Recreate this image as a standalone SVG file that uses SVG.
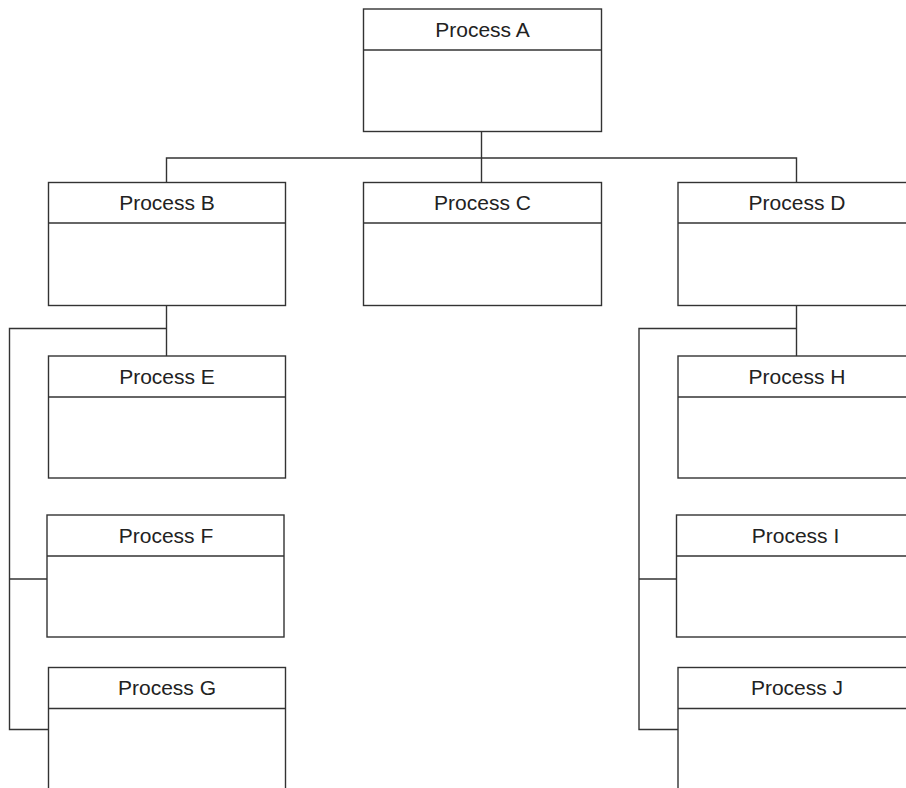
<svg xmlns="http://www.w3.org/2000/svg" width="906" height="788" viewBox="0 0 906 788">
  <style>
    .box { fill: #ffffff; stroke: #333333; stroke-width: 1.4; }
    .sep { stroke: #333333; stroke-width: 1.4; }
    .lbl { font-family: "Liberation Sans", Arial, sans-serif; font-size: 21px; fill: #222222; text-anchor: middle; }
    .wire { fill: none; stroke: #333333; stroke-width: 1.4; }
  </style>
  <rect width="906" height="788" fill="#ffffff"/>

  <!-- connectors -->
  <g id="connectors">
    <path class="wire" d="M481.5 131.5 V182.5"/>
    <path class="wire" d="M166.5 182.5 V158 H796.5 V182.5"/>
    <path class="wire" d="M166.5 305.5 V356"/>
    <path class="wire" d="M166.5 328.5 H9.5 V729.5 H48.5"/>
    <path class="wire" d="M9.5 579 H47"/>
    <path class="wire" d="M796.5 305.5 V356"/>
    <path class="wire" d="M796.5 328.5 H639 V729.5 H678"/>
    <path class="wire" d="M639 579 H676.5"/>
  </g>

  <g id="process-a">
    <rect class="box" x="363.5" y="9" width="238" height="122.5"/>
    <line class="sep" x1="363.5" y1="50" x2="601.5" y2="50"/>
    <text class="lbl" x="482.5" y="36.5">Process A</text>
  </g>
  <g id="process-b">
    <rect class="box" x="48.5" y="182.5" width="237" height="123"/>
    <line class="sep" x1="48.5" y1="223" x2="285.5" y2="223"/>
    <text class="lbl" x="167" y="210">Process B</text>
  </g>
  <g id="process-c">
    <rect class="box" x="363.5" y="182.5" width="238" height="123"/>
    <line class="sep" x1="363.5" y1="223" x2="601.5" y2="223"/>
    <text class="lbl" x="482.5" y="210">Process C</text>
  </g>
  <g id="process-d">
    <rect class="box" x="678" y="182.5" width="238" height="123"/>
    <line class="sep" x1="678" y1="223" x2="916" y2="223"/>
    <text class="lbl" x="797" y="210">Process D</text>
  </g>
  <g id="process-e">
    <rect class="box" x="48.5" y="356" width="237" height="122"/>
    <line class="sep" x1="48.5" y1="397" x2="285.5" y2="397"/>
    <text class="lbl" x="167" y="383.5">Process E</text>
  </g>
  <g id="process-f">
    <rect class="box" x="47" y="515" width="237" height="122"/>
    <line class="sep" x1="47" y1="556" x2="284" y2="556"/>
    <text class="lbl" x="166" y="542.5">Process F</text>
  </g>
  <g id="process-g">
    <rect class="box" x="48.5" y="667.5" width="237" height="130"/>
    <line class="sep" x1="48.5" y1="708.5" x2="285.5" y2="708.5"/>
    <text class="lbl" x="167" y="695">Process G</text>
  </g>
  <g id="process-h">
    <rect class="box" x="678" y="356" width="238" height="122"/>
    <line class="sep" x1="678" y1="397" x2="916" y2="397"/>
    <text class="lbl" x="797" y="383.5">Process H</text>
  </g>
  <g id="process-i">
    <rect class="box" x="676.5" y="515" width="238" height="122"/>
    <line class="sep" x1="676.5" y1="556" x2="914.5" y2="556"/>
    <text class="lbl" x="795.5" y="542.5">Process I</text>
  </g>
  <g id="process-j">
    <rect class="box" x="678" y="667.5" width="238" height="130"/>
    <line class="sep" x1="678" y1="708.5" x2="916" y2="708.5"/>
    <text class="lbl" x="797" y="695">Process J</text>
  </g>
</svg>
